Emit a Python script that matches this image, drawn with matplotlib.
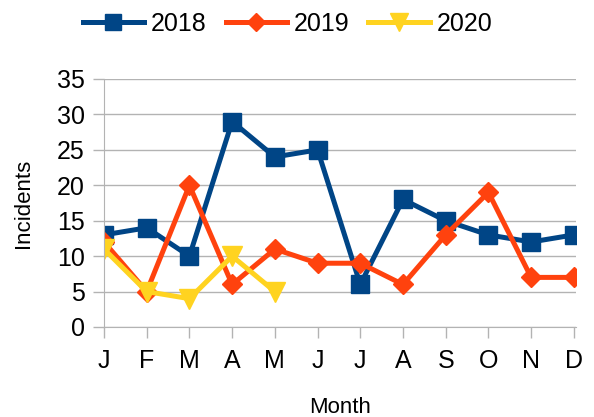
import matplotlib
matplotlib.use('Agg')
import matplotlib.pyplot as plt

months = ['J', 'F', 'M', 'A', 'M', 'J', 'J', 'A', 'S', 'O', 'N', 'D']
y2018 = [13, 14, 10, 29, 24, 25, 6, 18, 15, 13, 12, 13]
y2019 = [12, 5, 20, 6, 11, 9, 9, 6, 13, 19, 7, 7]
y2020 = [11, 5, 4, 10, 5]

plt.rcParams['font.family'] = ['Liberation Sans', 'DejaVu Sans']

fig = plt.figure(figsize=(5.94, 4.17), dpi=100)
ax = fig.add_axes([104 / 594, 1 - 327 / 417, (576 - 104) / 594, (327 - 79) / 417])

x = list(range(len(months)))
ax.plot(x, y2018, color='#004586', lw=3.6, marker='s', ms=13.5, label='2018')
ax.plot(x, y2019, color='#ff420e', lw=3.6, marker='D', ms=10.5, label='2019')
ax.plot(x[:len(y2020)], y2020, color='#ffd320', lw=3.6, marker='v', ms=14, label='2020')

ax.set_xlim(0, 11.05)
ax.set_ylim(0, 35)
ax.set_yticks(range(0, 36, 5))
ax.set_xticks(x)
ax.set_xticklabels(months)
ax.tick_params(labelsize=18, colors='#b3b3b3', labelcolor='black', length=8, width=1)
ax.tick_params(axis='y', pad=6)
ax.tick_params(axis='x', pad=8)
ax.grid(axis='y', color='#b3b3b3', lw=1)
ax.set_axisbelow(True)
for s in ['top', 'right']:
    ax.spines[s].set_visible(False)
ax.spines['left'].set_color('#b3b3b3')
ax.spines['bottom'].set_color('#b3b3b3')

ax.set_xlabel('Month', fontsize=16, labelpad=17)
ax.set_ylabel('Incidents', fontsize=16, labelpad=16)

fig.legend(loc='upper left', bbox_to_anchor=(60 / 594, 1.025), ncol=3, frameon=False,
           fontsize=18, handlelength=2.45, columnspacing=0.76, handletextpad=0.28,
           markerscale=0.9)

fig.savefig('out.png', dpi=100)
